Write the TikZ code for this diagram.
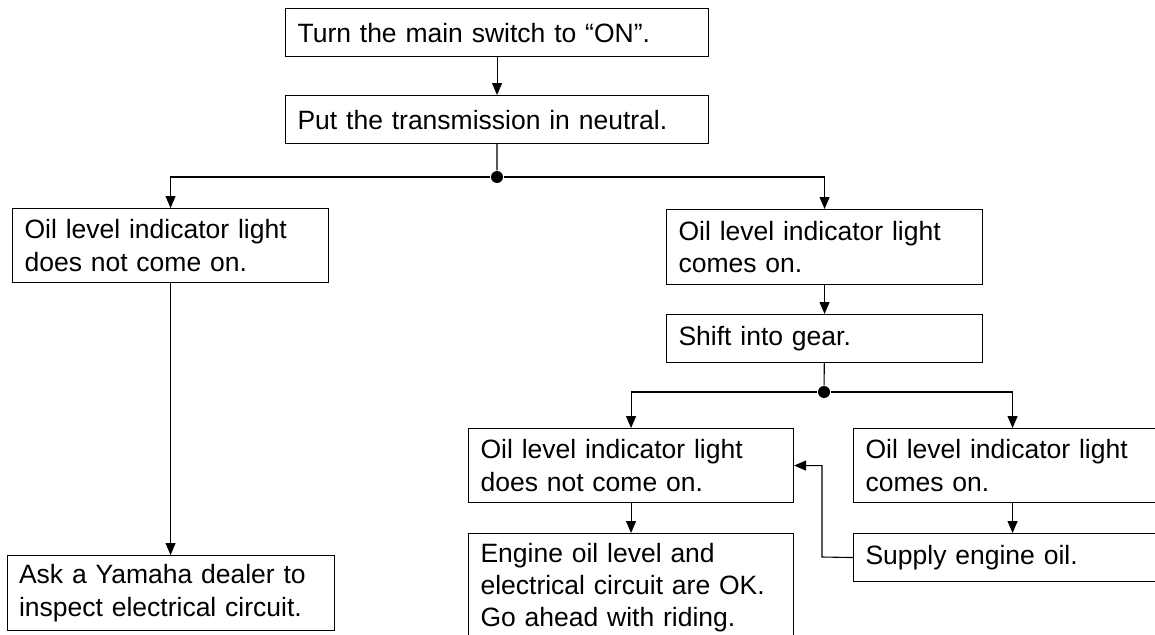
\documentclass[tikz,border=0pt]{standalone}
\usepackage{fontspec}
\setmainfont{Liberation Sans}
\usetikzlibrary{arrows.meta}

\begin{document}
\begin{tikzpicture}[x=1pt, y=-1pt, line width=1.1pt,
  box/.style={draw, anchor=north west, inner xsep=12pt, inner ysep=0pt, align=left,
    font=\fontsize{26.5}{32.4}\selectfont},
  arr/.style={-{Triangle[length=12pt, width=10pt]}},
  junction/.style={circle, fill, inner sep=0pt, minimum size=12pt}]
\useasboundingbox (0,0) rectangle (1155,634);
\clip (0,0) rectangle (1155,634);

\coordinate (T) at (285,8);
\coordinate (N) at (285,95);
\coordinate (L) at (12,208);
\coordinate (Y) at (6.5,555);
\coordinate (R) at (666,209);
\coordinate (S) at (666,314);
\coordinate (Lb) at (468,428);
\coordinate (E) at (468,533);
\coordinate (Rb) at (853,428);
\coordinate (O) at (853,533);
\coordinate (bend) at (822,557);

\node[box, text width=399pt, minimum height=48pt] (turn) at (T) {Turn the main switch to “ON”.};
\node[box, text width=399pt, minimum height=48pt] (neutral) at (N) {Put the transmission in neutral.};
\node[box, text width=292pt, minimum height=74pt] (notonL) at (L) {Oil level indicator light\\does not come on.};
\node[box, text width=303pt, minimum height=75pt] (ask) at (Y) {Ask a Yamaha dealer to\\inspect electrical circuit.};
\node[box, text width=292pt, minimum height=75pt] (comesonR) at (R) {Oil level indicator light\\comes on.};
\node[box, text width=292pt, minimum height=48pt] (shift) at (S) {Shift into gear.};
\node[box, text width=301pt, minimum height=74pt] (notonB) at (Lb) {Oil level indicator light\\does not come on.};
\node[box, text width=301pt, minimum height=108pt] (engine) at (E) {Engine oil level and\\electrical circuit are OK.\\Go ahead with riding.};
\node[box, text width=294pt, minimum height=74pt] (comesonB) at (Rb) {Oil level indicator light\\comes on.};
\node[box, text width=294pt, minimum height=48pt] (supply) at (O) {Supply engine oil.};

\node[junction] (dot1) at (497,177) {};
\node[junction] (dot2) at (824,392) {};

\draw[arr] (turn) -- (neutral);
\draw (neutral) -- (dot1);
\draw[arr] (dot1) -| (notonL.north);
\draw[arr] (dot1) -| (comesonR.north);
\draw[arr] (notonL) -- (ask);
\draw[arr] (comesonR) -- (shift);
\draw (shift) -- (dot2);
\draw[arr] (dot2) -| (notonB.north);
\draw[arr] (dot2) -| (comesonB.north);
\draw[arr] (notonB) -- (engine);
\draw[arr] (comesonB) -- (supply);
\draw[arr] (supply.west) -- (bend) |- (notonB.east);
\end{tikzpicture}
\end{document}
